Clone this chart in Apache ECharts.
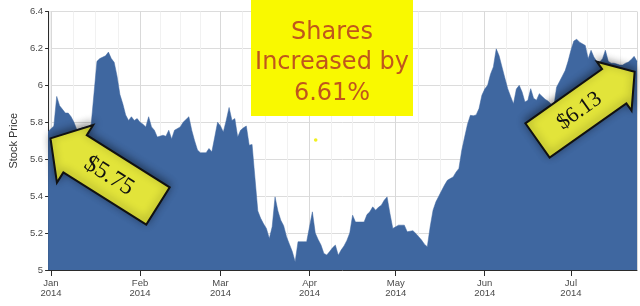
<!DOCTYPE html>
<html>
<head>
<meta charset="utf-8">
<script src="https://cdn.jsdelivr.net/npm/echarts@6/dist/echarts.min.js"></script>
<style>
html,body{margin:0;padding:0;background:#fff;}
#chart{width:640px;height:306px;}
</style>
</head>
<body>
<div id="chart"></div>
<script>
// ---- data ----
const dates = [
'2013-12-31','2014-01-02','2014-01-03','2014-01-04','2014-01-05','2014-01-06','2014-01-07','2014-01-08','2014-01-09','2014-01-10',
'2014-01-12','2014-01-14','2014-01-15','2014-01-16','2014-01-17','2014-01-18','2014-01-20','2014-01-21','2014-01-22','2014-01-23',
'2014-01-24','2014-01-25','2014-01-26','2014-01-27','2014-01-28','2014-01-29','2014-01-30','2014-01-31',
'2014-02-01','2014-02-02','2014-02-03','2014-02-04','2014-02-05','2014-02-06','2014-02-07','2014-02-09','2014-02-10','2014-02-11',
'2014-02-12','2014-02-13','2014-02-15','2014-02-16','2014-02-18','2014-02-19','2014-02-20','2014-02-21','2014-02-22','2014-02-24',
'2014-02-25','2014-02-26','2014-02-27','2014-02-28',
'2014-03-01','2014-03-02','2014-03-03','2014-03-04','2014-03-05','2014-03-06','2014-03-07','2014-03-08','2014-03-09','2014-03-10',
'2014-03-11','2014-03-12','2014-03-13','2014-03-14','2014-03-15','2014-03-16','2014-03-17','2014-03-18','2014-03-19','2014-03-20',
'2014-03-21','2014-03-22','2014-03-23','2014-03-24','2014-03-25','2014-03-26','2014-03-27','2014-03-28','2014-03-30','2014-03-31',
'2014-04-01','2014-04-02','2014-04-03','2014-04-04','2014-04-05','2014-04-06','2014-04-07','2014-04-08','2014-04-09','2014-04-10',
'2014-04-11','2014-04-12','2014-04-13','2014-04-14','2014-04-15','2014-04-16','2014-04-17','2014-04-18','2014-04-19','2014-04-20',
'2014-04-21','2014-04-22','2014-04-23','2014-04-24','2014-04-25','2014-04-26','2014-04-27','2014-04-28','2014-04-29','2014-04-30',
'2014-05-01','2014-05-02','2014-05-03','2014-05-04','2014-05-05','2014-05-06','2014-05-07','2014-05-08','2014-05-09','2014-05-10',
'2014-05-11','2014-05-12','2014-05-13','2014-05-14','2014-05-15','2014-05-16','2014-05-17','2014-05-18','2014-05-19','2014-05-20',
'2014-05-21','2014-05-22','2014-05-23','2014-05-24','2014-05-25','2014-05-26','2014-05-27','2014-05-28','2014-05-29','2014-05-30',
'2014-05-31',
'2014-06-01','2014-06-02','2014-06-03','2014-06-04','2014-06-05','2014-06-06','2014-06-07','2014-06-08','2014-06-09','2014-06-10',
'2014-06-11','2014-06-12','2014-06-13','2014-06-14','2014-06-15','2014-06-16','2014-06-17','2014-06-18','2014-06-19','2014-06-20',
'2014-06-21','2014-06-22','2014-06-23','2014-06-24','2014-06-25','2014-06-26','2014-06-27','2014-06-28','2014-06-29','2014-06-30',
'2014-07-01','2014-07-02','2014-07-03','2014-07-04','2014-07-05','2014-07-06','2014-07-07','2014-07-08','2014-07-09','2014-07-10',
'2014-07-11','2014-07-12','2014-07-13','2014-07-14','2014-07-15','2014-07-16','2014-07-17','2014-07-18','2014-07-19','2014-07-20',
'2014-07-21','2014-07-22','2014-07-23','2014-07-24'
];
const prices = [
5.75,5.78,5.94,5.89,5.87,5.85,5.85,5.83,5.80,5.76,
5.77,5.77,5.79,5.96,6.13,6.145,6.16,6.18,6.145,6.125,
6.05,5.95,5.90,5.84,5.81,5.83,5.81,5.82,
5.80,5.79,5.775,5.83,5.775,5.757,5.72,5.73,5.724,5.757,
5.71,5.757,5.775,5.80,5.83,5.757,5.70,5.65,5.635,5.635,
5.658,5.64,5.72,5.80,
5.78,5.748,5.81,5.88,5.81,5.82,5.72,5.757,5.77,5.78,
5.676,5.68,5.50,5.32,5.28,5.25,5.225,5.17,5.234,5.396,
5.32,5.27,5.24,5.18,5.14,5.10,5.045,5.153,5.153,5.153,
5.234,5.315,5.20,5.165,5.135,5.09,5.081,5.10,5.12,5.135,
5.08,5.108,5.13,5.16,5.20,5.297,5.26,5.26,5.26,5.26,
5.30,5.315,5.342,5.324,5.34,5.351,5.378,5.396,5.306,5.225,
5.234,5.243,5.243,5.243,5.207,5.21,5.213,5.198,5.18,5.162,
5.14,5.126,5.234,5.324,5.369,5.40,5.43,5.46,5.486,5.495,
5.504,5.53,5.55,5.649,5.72,5.79,5.838,5.835,5.84,5.874,
5.946,
5.98,6.0,6.06,6.10,6.198,6.16,6.10,6.04,5.982,5.94,
5.90,5.98,6.0,5.964,5.91,5.919,5.982,5.93,5.92,5.955,
5.94,5.925,5.915,5.90,5.88,5.99,6.02,6.05,6.08,6.13,
6.19,6.24,6.25,6.234,6.225,6.216,6.144,6.19,6.153,6.13,
6.126,6.144,6.19,6.13,6.12,6.12,6.115,6.11,6.11,6.12,
6.126,6.14,6.157,6.13
];
const monthNames = ['Jan','Feb','Mar','Apr','May','Jun','Jul','Aug','Sep','Oct','Nov','Dec'];
const titleLines = ['Shares', 'Increased by', '6.61%'];
const startLabel = '$5.75';
const endLabel = '$6.13';
const yAxisTitle = 'Stock Price';

// ---- chart ----
const chart = echarts.init(document.getElementById('chart'), null, {renderer: 'canvas'});
const seriesData = dates.map((d, i) => [d, prices[i]]);
const AX = '#2b2b2b';
const LBL = '#4a4a4a';

function arrow(x, y, rot, L, h, H, w) {
  return {
    type: 'polygon', x: x, y: y, rotation: rot, z: 100,
    shape: {points: [[0,-w],[L-h,-w],[L-h,-H],[L,0],[L-h,H],[L-h,w],[0,w]]},
    style: {fill: '#e2e43a', stroke: '#111', lineWidth: 2,
      shadowBlur: 8, shadowColor: 'rgba(0,0,0,0.45)', shadowOffsetX: 0, shadowOffsetY: -2}
  };
}

const option = {
  animation: false,
  backgroundColor: '#fff',
  grid: {left: 46, right: 3, top: 11.5, bottom: 36, containLabel: false},
  xAxis: {
    type: 'time',
    min: '2013-12-31',
    max: '2014-07-24',
    minInterval: 28 * 86400000,
    maxInterval: 31 * 86400000,
    axisLine: {show: true, lineStyle: {color: AX, width: 1}},
    axisTick: {show: true, length: 6, lineStyle: {color: AX}},
    axisLabel: {
      color: LBL, fontSize: 9.5, fontFamily: 'Liberation Sans', lineHeight: 10.5, margin: 8,
      showMinLabel: false, showMaxLabel: false,
      formatter: function (v) { const d = new Date(v); return monthNames[d.getMonth()] + '\n' + d.getFullYear(); }
    },
    splitLine: {show: true, lineStyle: {color: '#d9d9d9', width: 1}},
    minorTick: {show: false, splitNumber: 4},
    minorSplitLine: {show: true, lineStyle: {color: '#f1f1f1', width: 1}}
  },
  yAxis: {
    type: 'value',
    min: 5, max: 6.4, interval: 0.2,
    name: yAxisTitle, nameLocation: 'middle', nameGap: 29,
    nameTextStyle: {color: '#333', fontSize: 11, fontFamily: 'Liberation Sans'},
    axisLine: {show: true, lineStyle: {color: AX, width: 1}},
    axisTick: {show: true, length: 3, lineStyle: {color: AX}},
    axisLabel: {color: LBL, fontSize: 9.5, fontFamily: 'Liberation Sans', margin: 5},
    splitLine: {show: true, lineStyle: {color: '#dcdcdc', width: 1}}
  },
  series: [{
    type: 'line',
    data: seriesData,
    symbol: 'none',
    sampling: 'none',
    lineStyle: {color: '#3f67a0', width: 0.5},
    areaStyle: {color: '#3f67a0', opacity: 1},
    z: 2
  }],
  graphic: [
    {type: 'rect', z: 90, shape: {x: 251, y: 0, width: 162, height: 116}, style: {fill: '#f9f900'}},
    {type: 'text', z: 91, x: 332, y: 33, style: {text: titleLines[0], fill: '#c0561c', font: '24px "DejaVu Sans"', textAlign: 'center', textVerticalAlign: 'middle'}},
    {type: 'text', z: 91, x: 332, y: 63, style: {text: titleLines[1], fill: '#c0561c', font: '24px "DejaVu Sans"', textAlign: 'center', textVerticalAlign: 'middle'}},
    {type: 'text', z: 91, x: 332, y: 94, style: {text: titleLines[2], fill: '#c0561c', font: '24px "DejaVu Sans"', textAlign: 'center', textVerticalAlign: 'middle'}},
    {type: 'circle', z: 91, shape: {cx: 315.7, cy: 140, r: 1.8}, style: {fill: '#f0f020'}},
    arrow(158, 206, 2.58, 127, 29, 34, 22),
    {type: 'text', z: 101, x: 109, y: 176, rotation: -0.562,
      style: {text: startLabel, fill: '#111', font: '24px "Liberation Serif"', textAlign: 'center', textVerticalAlign: 'middle'}},
    arrow(537.5, 140.5, 0.616, 119, 25, 30, 21),
    {type: 'text', z: 101, x: 579.5, y: 111, rotation: 0.616,
      style: {text: endLabel, fill: '#111', font: '22px "Liberation Serif"', textAlign: 'center', textVerticalAlign: 'middle'}}
  ]
};
chart.setOption(option);
</script>
</body>
</html>
